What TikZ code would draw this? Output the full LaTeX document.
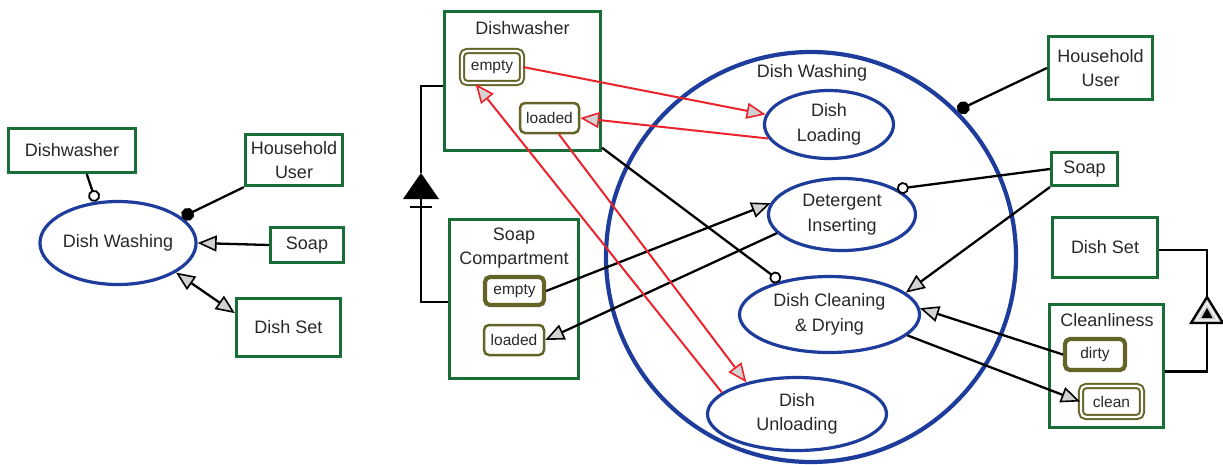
\documentclass[tikz,border=0pt]{standalone}
\usepackage{fontspec}
\setmainfont{Liberation Sans}
\usetikzlibrary{arrows.meta,shapes.geometric,calc}
\definecolor{objgreen}{RGB}{25,110,55}
\definecolor{procblue}{RGB}{30,60,155}
\definecolor{stolive}{RGB}{100,100,40}
\definecolor{linkred}{RGB}{235,35,45}
\definecolor{tipgray}{RGB}{210,210,210}
\definecolor{txtc}{RGB}{40,40,40}
\newcommand\mainfs{\fontsize{18}{24.5}\selectfont}
\newcommand\statefs{\fontsize{15.5}{18}\selectfont}
\begin{document}
\begin{tikzpicture}[x=1pt,y=-1pt,
  every node/.style={text=txtc},
  objbox/.style={draw=objgreen,line width=3.2pt,inner sep=0pt,align=center,font=\mainfs},
  proc/.style={ellipse,draw=procblue,line width=3.2pt,inner sep=0pt,align=center,font=\mainfs},
  stt/.style={draw=stolive,line width=2.5pt,rounded corners=5pt,inner sep=0pt,font=\statefs},
  sttinit/.style={stt,line width=4.2pt},
  sttfinal/.style={stt,line width=2pt,double=white,double distance=2.2pt},
  title/.style={font=\mainfs,align=center},
  link/.style={line width=2.3pt,draw=black},
  flow/.style={link,-{Triangle[length=19pt,width=16pt,fill=tipgray,line width=1.6pt]}},
  bflow/.style={link,{Triangle[length=19pt,width=16pt,fill=tipgray,line width=1.6pt]}-{Triangle[length=19pt,width=16pt,fill=tipgray,line width=1.6pt]}},
  rflow/.style={line width=2pt,draw=linkred,-{Triangle[length=19pt,width=16pt,fill=tipgray,line width=1.6pt]}},
  agent/.style={link,-{Circle[length=13pt,width=13pt]}},
  instr/.style={link,-{Circle[length=12pt,width=12pt,fill=white,line width=1.8pt]}}
]
\useasboundingbox (0,0) rectangle (1223,464);

% ---------- left diagram ----------
\node[objbox,minimum width=127pt,minimum height=44pt] (ldw) at (72,150.5) {Dishwasher};
\node[objbox,minimum width=97pt,minimum height=51pt] (luser) at (294,160) {Household\\User};
\node[proc,minimum width=155pt,minimum height=83pt] (lwash) at (118,243) {Dish Washing};
\node[objbox,minimum width=73pt,minimum height=35pt] (lsoap) at (307,245) {Soap};
\node[objbox,minimum width=104pt,minimum height=58pt] (lset) at (288.5,327.5) {Dish Set};

\draw[instr] (ldw.-58) -- (lwash.118);
\draw[agent] (luser.south west) -- (lwash.22);
\draw[flow] (lsoap.west) -- (lwash.east);
\draw[bflow] (lset.165) -- (lwash.-27);

% ---------- right diagram: objects ----------
\node[objbox,minimum width=156pt,minimum height=139pt] (rdw) at (522.5,81) {};
\node[title] (rdwtitle) at (522.5,28) {Dishwasher};
\node[sttfinal,minimum width=60pt,minimum height=32pt] (rdwempty) at (492,67) {empty};
\node[stt,minimum width=59pt,minimum height=30pt] (rdwloaded) at (549.5,118) {loaded};

\node[objbox,minimum width=129pt,minimum height=159pt] (rsc) at (514,299) {};
\node[title] (rsctitle) at (514,248) {Soap\\Compartment};
\node[sttinit,minimum width=59pt,minimum height=28pt] (rscempty) at (514.5,291) {empty};
\node[stt,minimum width=60pt,minimum height=30pt] (rscloaded) at (514,340) {loaded};

\node[objbox,minimum width=104pt,minimum height=63pt] (ruser) at (1100.5,68) {Household\\User};
\node[objbox,minimum width=66pt,minimum height=33pt] (rsoap) at (1084.5,169) {Soap};
\node[objbox,minimum width=105pt,minimum height=60pt] (rset) at (1105,247.5) {Dish Set};
\node[objbox,minimum width=114pt,minimum height=123pt] (rclean) at (1106.5,366) {};
\node[title] (rcleantitle) at (1107,320) {Cleanliness};
\node[sttinit,minimum width=60pt,minimum height=31pt] (dirty) at (1095,354.5) {dirty};
\node[sttfinal,minimum width=61pt,minimum height=31pt] (clean) at (1111.5,401.5) {clean};

% ---------- right diagram: processes ----------
\node[circle,draw=procblue,line width=4.2pt,minimum size=410pt,inner sep=0pt] (rwash) at (811,257) {};
\node[title] (rwashtitle) at (812,73) {Dish Washing};
\node[proc,minimum width=129pt,minimum height=68pt] (dload) at (829,124.5) {Dish\\Loading};
\node[proc,minimum width=147pt,minimum height=72pt] (deterg) at (842,214.5) {Detergent\\Inserting};
\node[proc,minimum width=180pt,minimum height=76pt] (dclean) at (829.5,314.5) {Dish Cleaning\\\& Drying};
\node[proc,minimum width=179pt,minimum height=73pt] (dunload) at (797,414) {Dish\\Unloading};

% ---------- aggregation ----------
\coordinate (aggtop) at (421,173);
\coordinate (aggbase) at (421,199);
\draw[link] ([yshift=-5pt]rdw.west) -| (aggtop);
\fill[black] (aggtop) -- ++(18,26) -- ++(-36,0) -- cycle;
\draw[link] ([xshift=-11pt,yshift=-8pt]aggbase) -- ([xshift=11pt,yshift=-8pt]aggbase);
\draw[link] (aggbase) |- ([yshift=-3pt]rsc.west);

% ---------- exhibition ----------
\coordinate (exhtop) at (1207,297);
\coordinate (exhbase) at (1207,323);
\draw[link] ([yshift=-2.5pt]rset.east) -| (exhtop);
\draw[link,fill=tipgray] (exhtop) -- ++(16,26) -- ++(-32,0) -- cycle;
\draw[line width=1pt,draw=white] ([yshift=-6pt]exhtop) -- ++(10.5,17) -- ++(-21,0) -- cycle;
\fill[black] (1207,308) -- ++(5.5,10) -- ++(-11,0) -- cycle;
\draw[link] (exhbase) |- ([yshift=-5.5pt]rclean.east);

% ---------- links ----------
\draw[agent] (ruser.west) -- (rwash.45);
\draw[instr] (rsoap.west) -- (deterg.25);
\draw[flow] (rsoap.south west) -- (dclean.16);
\draw[instr] (rdw.-40) -- (dclean.146);
\draw[flow] (rscempty.east) -- (deterg.171);
\draw[flow] (deterg.196) -- (rscloaded.east);
\draw[flow] (dirty.west) -- (dclean.4);
\draw[flow] (dclean.-15) -- (clean.west);

\draw[rflow] (rdwempty.east) -- (dload.171);
\draw[rflow] (dload.193) -- (rdwloaded.east);
\draw[rflow] (rdwloaded.-60) -- (dunload.148);
\draw[rflow] (dunload.164) -- (rdwempty.-134);
\end{tikzpicture}
\end{document}
